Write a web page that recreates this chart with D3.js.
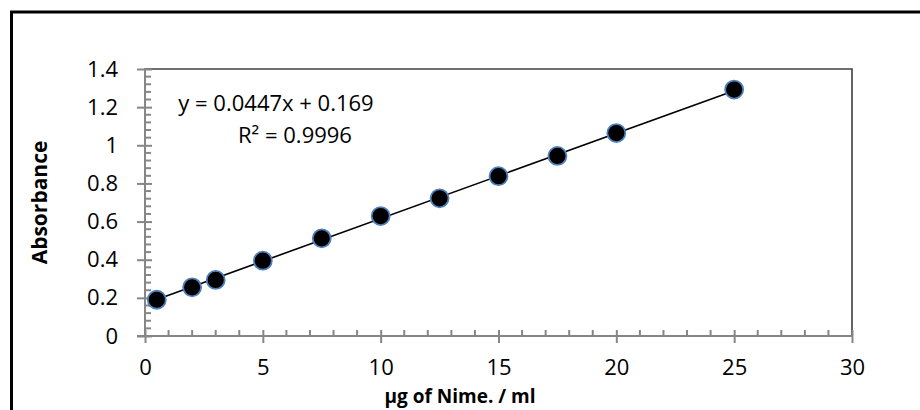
<!DOCTYPE html>
<html>
<head>
<meta charset="utf-8">
<script src="https://cdn.jsdelivr.net/npm/d3@7"></script>
<style>
  html, body { margin: 0; padding: 0; background: #fff; }
  svg { display: block; }
</style>
</head>
<body>
<svg id="chart" width="920" height="410"></svg>
<script>
// ---- data ----
const concentrations = [0.5, 2, 3, 5, 7.5, 10, 12.5, 15, 17.5, 20, 25];
const absorbance = [0.19, 0.255, 0.294, 0.395, 0.512, 0.629, 0.722, 0.838, 0.944, 1.064, 1.292];
const xTicks = [0, 5, 10, 15, 20, 25, 30];
const yTicks = [0, 0.2, 0.4, 0.6, 0.8, 1, 1.2, 1.4];
const trendSlope = 0.0447;
const trendIntercept = 0.169;
const equationLabel = "y = 0.0447x + 0.169";
const r2Label = "R² = 0.9996";
const xTitle = "µg of Nime. / ml";
const yTitle = "Absorbance";

// ---- layout ----
const svg = d3.select("#chart");
const pLeft = 145, pRight = 852, pTop = 69, pBottom = 336;
const x = d3.scaleLinear().domain([0, 30]).range([pLeft, pRight]);
const y = d3.scaleLinear().domain([0, 1.4]).range([pBottom, pTop]);
const font = "'Open Sans', 'Noto Sans', sans-serif";
const axisColor = "#868686";

// outer frame (extends past right/bottom edges)
svg.append("rect")
  .attr("x", 11.5).attr("y", 12)
  .attr("width", 1000).attr("height", 1000)
  .attr("fill", "none").attr("stroke", "#000").attr("stroke-width", 3);

// plot area border (top & right)
svg.append("path")
  .attr("d", `M${pLeft},${pTop}H${pRight}V${pBottom}`)
  .attr("fill", "none").attr("stroke", "#404040").attr("stroke-width", 1.6);

// minor ticks
const yMinor = d3.range(0, 1.4001, 0.04).filter(v => Math.abs(v / 0.2 - Math.round(v / 0.2)) > 1e-6);
svg.append("g").selectAll("line").data(yMinor).join("line")
  .attr("x1", pLeft).attr("x2", pLeft + 6)
  .attr("y1", d => y(d)).attr("y2", d => y(d))
  .attr("stroke", axisColor).attr("stroke-width", 2);
const xMinor = d3.range(0, 30.001, 1).filter(v => v % 5 !== 0);
svg.append("g").selectAll("line").data(xMinor).join("line")
  .attr("x1", d => x(d)).attr("x2", d => x(d))
  .attr("y1", pBottom).attr("y2", pBottom - 6)
  .attr("stroke", axisColor).attr("stroke-width", 2);

// y axis
const yAxis = svg.append("g").attr("transform", `translate(${pLeft},0)`)
  .call(d3.axisLeft(y).tickValues(yTicks).tickSize(8).tickPadding(19)
    .tickFormat(d => String(+d.toFixed(1))));
yAxis.select(".domain").attr("stroke", axisColor).attr("stroke-width", 2)
  .attr("d", `M0,${pTop - 1}V${pBottom + 1}`);
yAxis.selectAll(".tick line").attr("stroke", axisColor).attr("stroke-width", 2)
  .attr("x1", 7);
yAxis.selectAll(".tick text").attr("font-family", font).attr("font-size", 22)
  .attr("fill", "#000");

// x axis
const xAxis = svg.append("g").attr("transform", `translate(0,${pBottom})`)
  .call(d3.axisBottom(x).tickValues(xTicks).tickSize(7).tickPadding(16));
xAxis.select(".domain").attr("stroke", axisColor).attr("stroke-width", 2)
  .attr("d", `M${pLeft - 8},0H${pRight}`);
xAxis.selectAll(".tick line").attr("stroke", axisColor).attr("stroke-width", 2)
  .attr("y1", -6);
xAxis.selectAll(".tick text").attr("font-family", font).attr("font-size", 22)
  .attr("fill", "#000");

// trendline
const xExt = d3.extent(concentrations);
svg.append("line")
  .attr("x1", x(xExt[0])).attr("y1", y(trendSlope * xExt[0] + trendIntercept))
  .attr("x2", x(xExt[1])).attr("y2", y(trendSlope * xExt[1] + trendIntercept))
  .attr("stroke", "#000").attr("stroke-width", 1.6);

// points
svg.append("g").selectAll("circle").data(concentrations).join("circle")
  .attr("cx", d => x(d))
  .attr("cy", (d, i) => y(absorbance[i]))
  .attr("r", 9)
  .attr("fill", "#000")
  .attr("stroke", "#4f81bd").attr("stroke-width", 1.8);

// equation
svg.append("text").attr("x", 276).attr("y", 103).attr("dy", "0.35em")
  .attr("text-anchor", "middle").attr("font-family", font).attr("font-size", 22)
  .text(equationLabel);
svg.append("text").attr("x", 295).attr("y", 135).attr("dy", "0.35em")
  .attr("text-anchor", "middle").attr("font-family", font).attr("font-size", 22)
  .text(r2Label);

// axis titles
svg.append("text")
  .attr("transform", `translate(40,${(pTop + pBottom) / 2}) rotate(-90)`)
  .attr("dy", "0.35em").attr("text-anchor", "middle")
  .attr("font-family", font).attr("font-weight", "bold").attr("font-size", 21)
  .text(yTitle);
svg.append("text")
  .attr("x", 460).attr("y", 396).attr("dy", "0.35em")
  .attr("text-anchor", "middle")
  .attr("font-family", font).attr("font-weight", "bold").attr("font-size", 19)
  .text(xTitle);
</script>
</body>
</html>
